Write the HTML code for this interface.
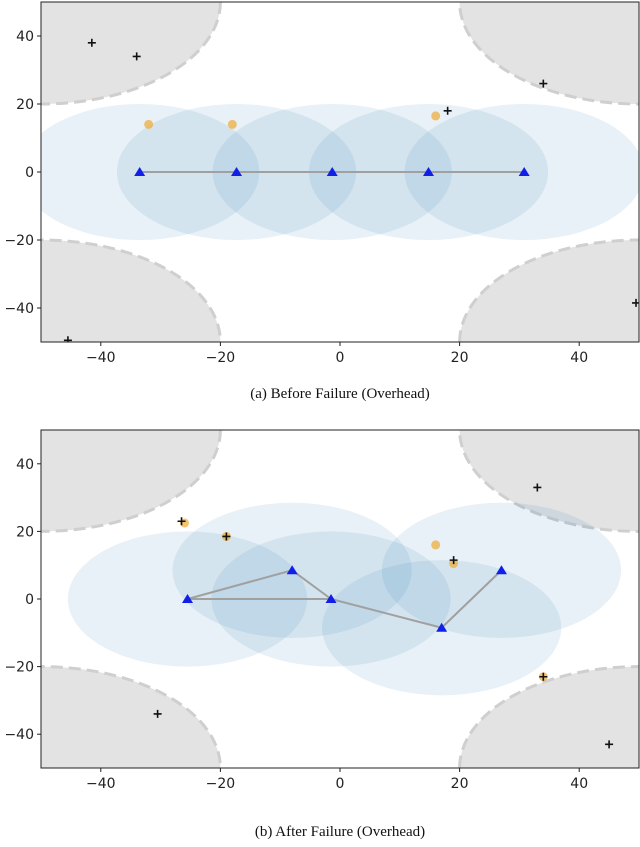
<!DOCTYPE html>
<html><head><meta charset="utf-8">
<style>
body{margin:0;background:#fff;width:640px;height:842px;overflow:hidden}
svg text{font-family:"DejaVu Sans","Liberation Sans",sans-serif}
.cap{font-family:"Liberation Serif",serif;font-size:15px}
</style></head>
<body>
<svg id="chart" width="640" height="842" viewBox="0 0 640 842"></svg>
<script>
// Panel (a)
const aNodesX = [-33.5, -17.3, -1.3, 14.8, 30.8];
const aNodesY = [0, 0, 0, 0, 0];
const aEdges = [[0,1],[1,2],[2,3],[3,4]];
const aTargetsX = [-32, -18, 16];
const aTargetsY = [14, 14, 16.5];
const aCrossX = [-41.5, -34, 18, 34, 49.5, -45.5];
const aCrossY = [38, 34, 18, 26, -38.5, -49.5];
// Panel (b)
const bNodesX = [-25.5, -8, -1.5, 17, 27];
const bNodesY = [0, 8.5, 0, -8.5, 8.5];
const bEdges = [[0,1],[0,2],[1,2],[2,3],[3,4]];
const bTargetsX = [-26, -19, 16, 19, 34];
const bTargetsY = [22.5, 18.5, 16, 10.5, -23];
const bCrossX = [-26.5, -19, 19, 33, 34, 45, -30.5];
const bCrossY = [23, 18.5, 11.5, 33, -23, -43, -34];
const xTicks = [-40, -20, 0, 20, 40];
const yTicks = [40, 20, 0, -20, -40];
const commRadius = 20;
const obstacleRadius = 30;

const NS = "http://www.w3.org/2000/svg";
const svg = document.getElementById('chart');
function mk(tag, attrs, parent){const e=document.createElementNS(NS,tag);for(const k in attrs)e.setAttribute(k,attrs[k]);(parent||svg).appendChild(e);return e;}

function panel(id, top, bottom, nx, ny, edges, tx, ty, cx, cy, caption, capY){
  const L=41,R=639;
  const sx=v=>L+(v+50)*(R-L)/100;
  const sy=v=>top+(50-v)*(bottom-top)/100;
  const g=mk('g',{});
  
  
  const clipId=id+'clip';
  const cp=mk('clipPath',{id:clipId},g);
  mk('rect',{x:L,y:top,width:R-L,height:bottom-top},cp);
  const plot=mk('g',{'clip-path':'url(#'+clipId+')'},g);
  [[-50,50],[50,50],[-50,-50],[50,-50]].forEach((c,i)=>{
    const e=mk('ellipse',{cx:sx(c[0]),cy:sy(c[1]),rx:obstacleRadius*(R-L)/100,ry:obstacleRadius*(bottom-top)/100,fill:'#e3e3e3',stroke:'#cfcfcf','stroke-width':3,'stroke-dasharray':'12 6'},plot);
    
    
  });
  nx.forEach((x,i)=>{
    const e=mk('ellipse',{cx:sx(x),cy:sy(ny[i]),rx:commRadius*(R-L)/100,ry:commRadius*(bottom-top)/100,fill:'rgba(31,119,180,0.1)'},plot);
    
    
  });
  edges.forEach(ed=>{
    const e=mk('line',{x1:sx(nx[ed[0]]),y1:sy(ny[ed[0]]),x2:sx(nx[ed[1]]),y2:sy(ny[ed[1]]),stroke:'#a0a0a0','stroke-width':2},plot);
    
    
  });
  tx.forEach((x,i)=>{
    const e=mk('circle',{cx:sx(x),cy:sy(ty[i]),r:4.5,fill:'rgba(240,170,50,0.7)'},plot);
    
    
  });
  cx.forEach((x,i)=>{
    const X=sx(x),Y=sy(cy[i]);
    const e=mk('path',{d:`M${X-4},${Y}H${X+4}M${X},${Y-4}V${Y+4}`,stroke:'#111','stroke-width':1.6},plot);
    
    
  });
  nx.forEach((x,i)=>{
    const X=sx(x),Y=sy(ny[i]);
    const e=mk('path',{d:`M${X},${Y-5}L${X+5.5},${Y+4}L${X-5.5},${Y+4}Z`,fill:'#1020e8'},plot);
    
    
  });
  const fr=mk('rect',{x:L,y:top,width:R-L,height:bottom-top,fill:'none',stroke:'#222','stroke-width':1},g);
  
  
  xTicks.forEach(t=>{
    mk('line',{x1:sx(t),x2:sx(t),y1:bottom,y2:bottom+4,stroke:'#222'},g);
    const tt=mk('text',{x:sx(t),y:bottom+20,'text-anchor':'middle','font-size':14,fill:'#222'},g);
    tt.textContent=t<0?'\u2212'+(-t):t;
    
    
  });
  yTicks.forEach(t=>{
    mk('line',{x1:L-4,x2:L,y1:sy(t),y2:sy(t),stroke:'#222'},g);
    const tt=mk('text',{x:L-7,y:sy(t)+5,'text-anchor':'end','font-size':14,fill:'#222'},g);
    tt.textContent=t<0?'\u2212'+(-t):t;
    
    
  });
  const c=mk('text',{x:340,y:capY,'text-anchor':'middle',class:'cap',fill:'#111'},g);
  c.textContent=caption;
  
  
}
panel('before',2,342,aNodesX,aNodesY,aEdges,aTargetsX,aTargetsY,aCrossX,aCrossY,'(a) Before Failure (Overhead)',398);
panel('after',430,768,bNodesX,bNodesY,bEdges,bTargetsX,bTargetsY,bCrossX,bCrossY,'(b) After Failure (Overhead)',836);
</script>
</body></html>
